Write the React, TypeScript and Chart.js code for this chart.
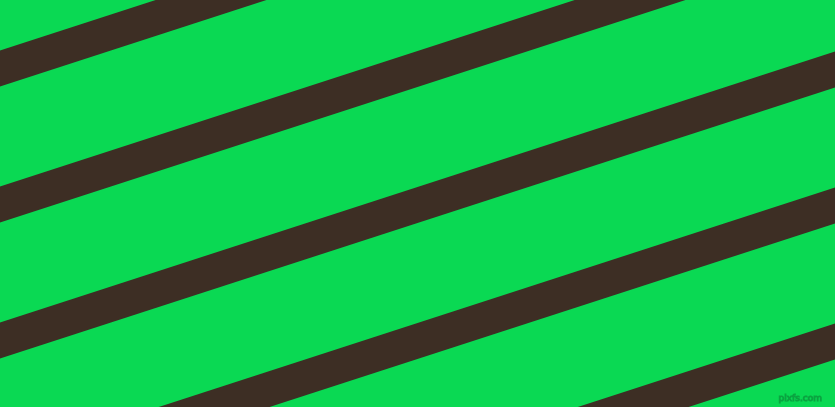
import { useEffect, useRef } from "react";
import { Chart, registerables } from "chart.js";

Chart.register(...registerables);

// each stripe is a straight band: centre height at the left edge (x = 0) and at the right edge (x = 835)
const stripeLabels = ["stripe 1", "stripe 2", "stripe 3", "stripe 4", "stripe 5"];
const leftCentreY = [68.5, 204.5, 340.5, 476.5, 612.5];
const rightCentreY = [-202.5, -66.5, 69.5, 205.5, 341.5];
const xRange = [0, 835];
const yRange = [0, 407];

const GREEN = "#0ad953";
const BROWN = "#3d2e24";

export default function App() {
  const canvasRef = useRef<HTMLCanvasElement | null>(null);

  useEffect(() => {
    if (!canvasRef.current) return;
    const ctx = canvasRef.current.getContext("2d");
    if (!ctx) return;

    const background = {
      id: "background",
      beforeDraw(chart: Chart) {
        const c = chart.ctx;
        c.save();
        c.fillStyle = GREEN;
        c.fillRect(0, 0, chart.width, chart.height);
        c.restore();
      },
      afterDraw(chart: Chart) {
        const c = chart.ctx;
        c.save();
        c.font = "9px 'DejaVu Sans', sans-serif";
        c.textAlign = "right";
        c.textBaseline = "bottom";
        c.strokeStyle = "rgba(10, 150, 60, 0.8)";
        c.lineWidth = 1;
        c.strokeText("pixfs.com", chart.width - 13, chart.height - 4);
        c.restore();
      },
    };

    const chart = new Chart(ctx, {
      type: "line",
      data: {
        datasets: stripeLabels.map((label, i) => ({
          label,
          data: [
            { x: xRange[0], y: leftCentreY[i] },
            { x: xRange[1], y: rightCentreY[i] },
          ],
          borderColor: BROWN,
          borderWidth: 34.2,
          borderCapStyle: "square" as const,
          pointRadius: 0,
          fill: false,
          tension: 0,
        })),
      },
      options: {
        animation: false,
        responsive: false,
        layout: { padding: 0 },
        plugins: {
          legend: { display: false },
          tooltip: { enabled: false },
        },
        scales: {
          x: { type: "linear", min: xRange[0], max: xRange[1], display: false },
          y: { type: "linear", min: yRange[0], max: yRange[1], reverse: true, display: false },
        },
      },
      plugins: [background],
    });

    return () => {
      chart.destroy();
    };
  }, []);

  return (
    <div style={{ position: "fixed", left: 0, top: 0, width: 835, height: 407 }}>
      <canvas ref={canvasRef} width={835} height={407}></canvas>
    </div>
  );
}
